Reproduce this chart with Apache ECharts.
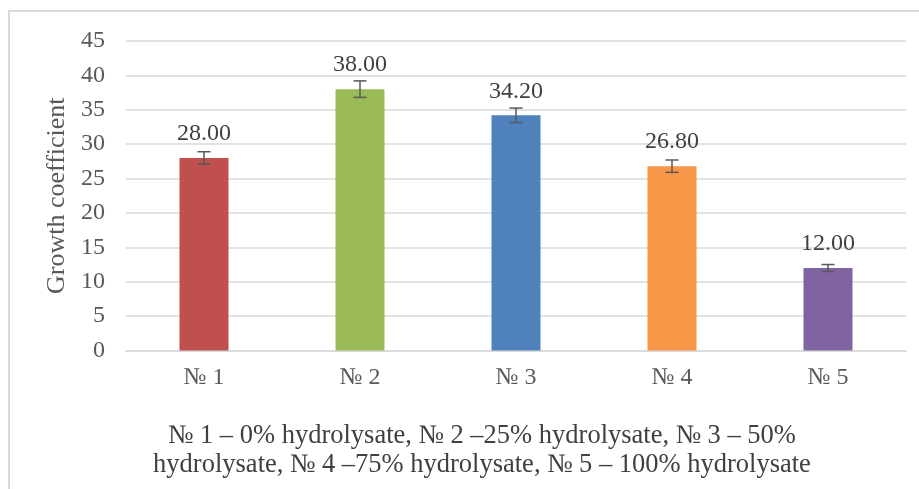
<!DOCTYPE html>
<html>
<head>
<meta charset="utf-8">
<script src="https://cdn.jsdelivr.net/npm/echarts@6/dist/echarts.min.js"></script>
<style>
html,body{margin:0;padding:0;background:#fff;}
#chart{width:919px;height:489px;}
</style>
</head>
<body>
<div id="chart"></div>
<script>
var categories = ['№ 1', '№ 2', '№ 3', '№ 4', '№ 5'];
var values = [28.00, 38.00, 34.20, 26.80, 12.00];
var errors = [0.9, 1.2, 1.05, 0.9, 0.5];
var barColors = ['#C0504D', '#9BBB59', '#4F81BD', '#F79646', '#8064A2'];
var yTicks = [0, 45, 5];
var yTitle = 'Growth coefficient';
var footer = '№ 1 – 0% hydrolysate, № 2 –25% hydrolysate, № 3 – 50%\nhydrolysate, № 4 –75% hydrolysate, № 5 – 100% hydrolysate';

var FONT = '"Liberation Serif", "Times New Roman", serif';
var chart = echarts.init(document.getElementById('chart'));

var errData = values.map(function (v, i) { return [i, v - errors[i], v + errors[i]]; });

chart.setOption({
  animation: false,
  backgroundColor: '#fff',
  grid: { left: 126, right: 13, top: 41, bottom: 138.5 },
  xAxis: {
    type: 'category',
    data: categories,
    axisLine: { lineStyle: { color: '#d9d9d9', width: 1.5 } },
    axisTick: { show: false },
    axisLabel: { color: '#595959', fontFamily: FONT, fontSize: 24, margin: 15 }
  },
  yAxis: {
    type: 'value',
    min: yTicks[0], max: yTicks[1], interval: yTicks[2],
    name: yTitle,
    nameLocation: 'middle',
    nameGap: 53,
    nameTextStyle: { color: '#595959', fontFamily: FONT, fontSize: 26 },
    axisLine: { show: false },
    axisTick: { show: false },
    splitLine: { lineStyle: { color: '#d9d9d9', width: 1.5 } },
    axisLabel: { color: '#595959', fontFamily: FONT, fontSize: 24, margin: 21 }
  },
  series: [
    {
      type: 'bar',
      data: values.map(function (v, i) { return { value: v, itemStyle: { color: barColors[i] } }; }),
      barWidth: '31.4%',
      label: {
        show: true, position: 'top', distance: 12,
        color: '#404040', fontFamily: FONT, fontSize: 24,
        formatter: function (p) { return p.value.toFixed(2); }
      },
      z: 2
    },
    {
      type: 'custom',
      data: errData,
      z: 3,
      renderItem: function (params, api) {
        var x = api.value(0);
        var lo = api.coord([x, api.value(1)]);
        var hi = api.coord([x, api.value(2)]);
        var hw = 6.5;
        var st = { stroke: '#595959', lineWidth: 1.5 };
        return {
          type: 'group',
          children: [
            { type: 'line', shape: { x1: lo[0], y1: lo[1], x2: hi[0], y2: hi[1] }, style: st },
            { type: 'line', shape: { x1: lo[0] - hw, y1: lo[1], x2: lo[0] + hw, y2: lo[1] }, style: st },
            { type: 'line', shape: { x1: hi[0] - hw, y1: hi[1], x2: hi[0] + hw, y2: hi[1] }, style: st }
          ]
        };
      }
    }
  ],
  graphic: [
    {
      type: 'rect', silent: true,
      shape: { x: 9, y: 11, width: 1000, height: 1000 },
      style: { fill: 'none', stroke: '#d9d9d9', lineWidth: 2 }
    },
    {
      type: 'text',
      x: 482, y: 422,
      style: {
        text: footer, fill: '#404040', font: '26.5px ' + FONT,
        textAlign: 'center', textVerticalAlign: 'top', lineHeight: 29
      }
    }
  ]
});
</script>
</body>
</html>
